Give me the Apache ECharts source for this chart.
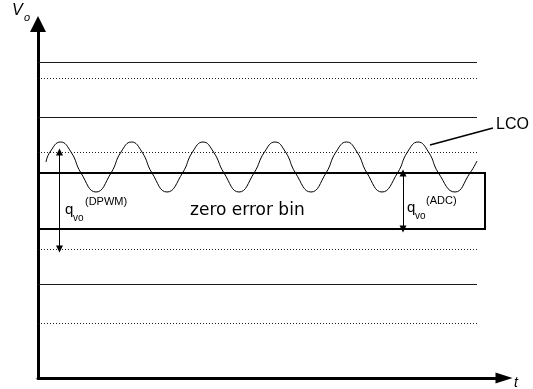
<!DOCTYPE html>
<html>
<head>
<meta charset="utf-8">
<script src="https://cdn.jsdelivr.net/npm/echarts@6/dist/echarts.min.js"></script>
<style>
  html, body { margin: 0; padding: 0; background: #fff; }
  #chart { width: 533px; height: 389px; }
</style>
</head>
<body>
<div id="chart"></div>
<script>
// Output-voltage quantization levels (arbitrary units, upward = higher V_o)
const solidLevels = [316, 261, 94];
const dottedLevels = [300, 226, 129, 55];
const binLevels = [149, 205];          // zero error bin: lower and upper edge
const levelEnd = 439;                  // time where the level lines stop
const binEnd = 447;                    // time of the bin's right edge

// Limit-cycle oscillation of V_o: peaks, troughs and level crossings
const lcoT = [8, 12, 22.5, 33, 43, 58, 73, 83, 93.5, 104, 114, 129, 144.5, 154.5,
  165, 175.5, 186, 201, 216, 226.5, 237, 247.5, 257.5, 273, 288, 298, 308.5, 319,
  329, 344, 359.5, 369.5, 380, 390.5, 400.5, 417, 432, 439];
const lcoV = [216, 226, 236, 226, 205, 186, 205, 226, 236, 226, 205, 186, 205, 226,
  236, 226, 205, 186, 205, 226, 236, 226, 205, 186, 205, 226, 236, 226,
  205, 186, 205, 226, 236, 226, 205, 186, 205, 217];

// Quantization-step markers: [time, from level, to level]
const dpwmStep = [21.5, 226, 129];
const adcStep = [365, 205, 149];

// Leader from the LCO label to the waveform: [t0, v0, t1, v1]
const lcoLeader = [392, 233, 455, 250];

const axisMax = { t: 466, v: 354 };
const ink = '#000';

const chart = echarts.init(document.getElementById('chart'), null, { renderer: 'canvas' });

const hLine = (v, end) => ({ coords: [[0, v], [end, v]] });

chart.setOption({
  animation: false,
  backgroundColor: '#fff',
  grid: { left: 38, top: 24, right: 29, bottom: 11 },
  xAxis: {
    type: 'value', min: 0, max: axisMax.t,
    axisLine: { show: true, onZero: false, symbol: ['none', 'triangle'], symbolSize: [11, 17],
      lineStyle: { color: ink, width: 3 } },
    axisTick: { show: false }, axisLabel: { show: false }, splitLine: { show: false }
  },
  yAxis: {
    type: 'value', min: 0, max: axisMax.v,
    axisLine: { show: true, onZero: false, symbol: ['none', 'triangle'], symbolSize: [16, 16],
      lineStyle: { color: ink, width: 3 } },
    axisTick: { show: false }, axisLabel: { show: false }, splitLine: { show: false }
  },
  series: [
    {
      type: 'lines', coordinateSystem: 'cartesian2d', z: 1,
      lineStyle: { color: '#1a1a1a', width: 1, opacity: 1 },
      data: solidLevels.map(v => hLine(v, levelEnd))
    },
    {
      type: 'lines', coordinateSystem: 'cartesian2d', z: 1,
      lineStyle: { color: '#222', width: 1, type: [1, 2], opacity: 1 },
      data: dottedLevels.map(v => hLine(v, levelEnd))
    },
    {
      // zero error bin outline (left side is the V_o axis)
      type: 'lines', coordinateSystem: 'cartesian2d', polyline: true, z: 2,
      lineStyle: { color: ink, width: 2, opacity: 1 },
      data: [{ coords: [[0, binLevels[1]], [binEnd, binLevels[1]], [binEnd, binLevels[0]], [0, binLevels[0]]] }]
    },
    {
      type: 'line', z: 3, smooth: 0.5, showSymbol: false, symbol: 'none',
      lineStyle: { color: ink, width: 1 },
      data: lcoT.map((t, i) => [t, lcoV[i]])
    },
    {
      type: 'lines', coordinateSystem: 'cartesian2d', z: 4,
      symbol: ['triangle', 'triangle'], symbolSize: 7,
      lineStyle: { color: ink, width: 1, opacity: 1 },
      data: [dpwmStep, adcStep].map(s => ({ coords: [[s[0], s[1]], [s[0], s[2]]] }))
    },
    {
      type: 'lines', coordinateSystem: 'cartesian2d', z: 4,
      lineStyle: { color: ink, width: 1.6, opacity: 1 },
      data: [{ coords: [[lcoLeader[0], lcoLeader[1]], [lcoLeader[2], lcoLeader[3]]] }]
    }
  ]
});

// Text annotations, placed relative to the axes
const sans = '"Liberation Sans", Arial, sans-serif';
const dejavu = '"DejaVu Sans", Verdana, sans-serif';
function txt(text, x, y, size, opts = {}) {
  return {
    type: 'text', x: x, y: y, z: 10,
    style: {
      text: text, fill: ink, fontSize: size,
      fontFamily: opts.family || sans, fontStyle: opts.italic ? 'italic' : 'normal',
      verticalAlign: 'middle', align: 'left'
    }
  };
}
chart.setOption({
  graphic: [
    txt('V', 12, 11, 16, { italic: true }),
    txt('o', 24, 18, 11, { italic: true }),
    txt('t', 514, 383, 14, { italic: true }),
    txt('LCO', 496, 125, 16),
    txt('zero error bin', 190, 211, 17, { family: dejavu }),
    txt('q', 65, 210, 15),
    txt('vo', 73, 218, 10),
    txt('(DPWM)', 85, 202, 11),
    txt('q', 407, 208, 15),
    txt('vo', 415, 216, 10),
    txt('(ADC)', 426, 201, 11)
  ]
});
</script>
</body>
</html>
